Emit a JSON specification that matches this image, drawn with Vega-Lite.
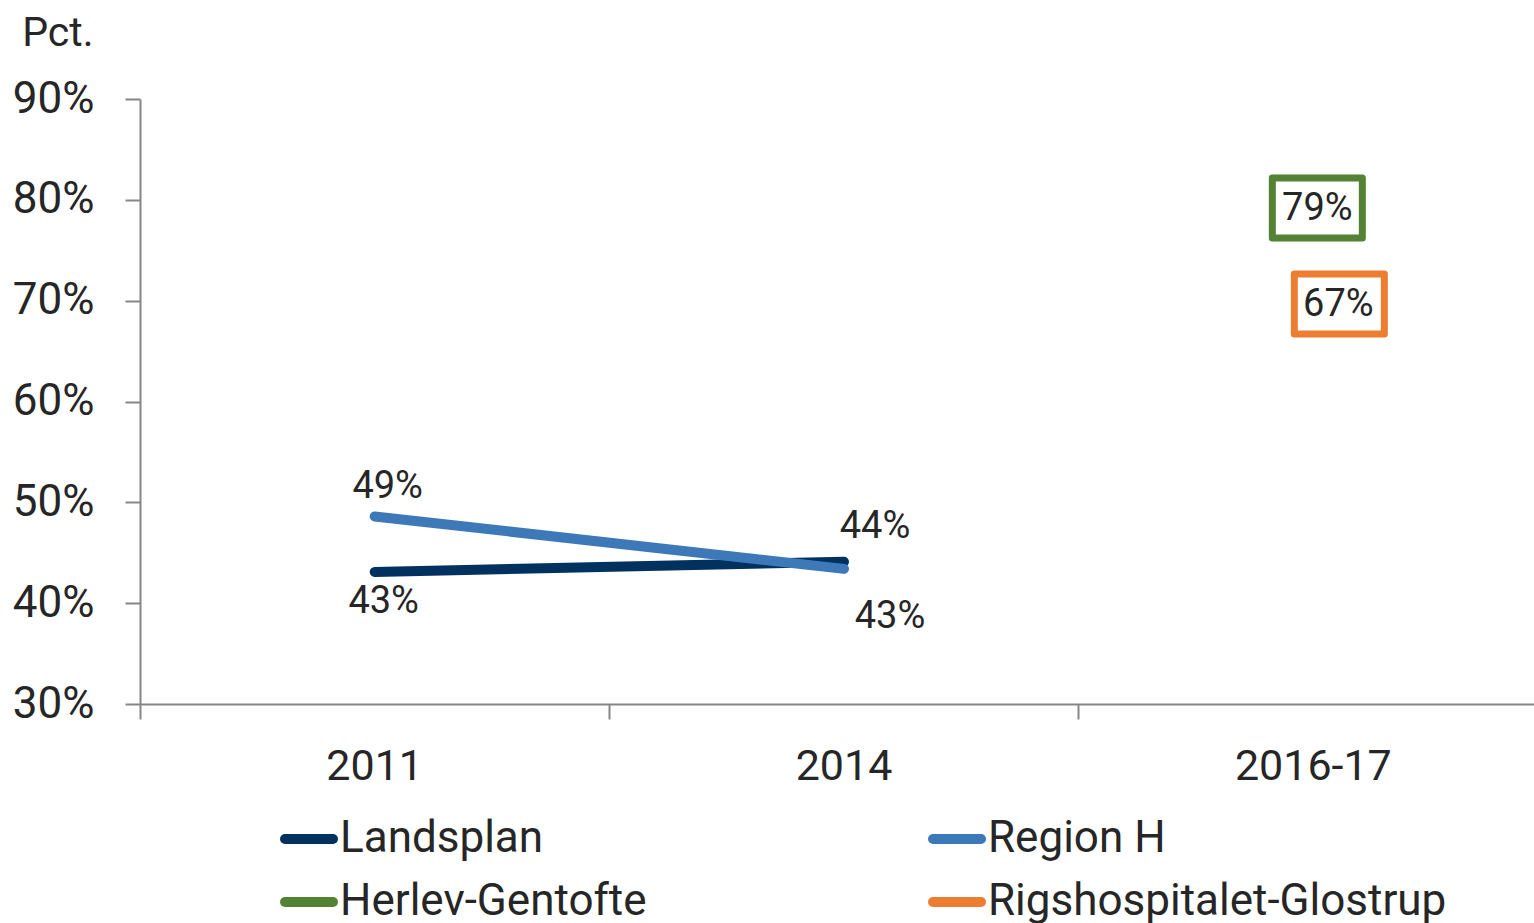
{
  "$schema": "https://vega.github.io/schema/vega-lite/v6.json",
  "autosize": "none",
  "width": 1394,
  "height": 605,
  "padding": {"left": 140, "top": 99, "right": 0, "bottom": 219},
  "background": "white",
  "config": {
    "font": "Roboto",
    "view": {"stroke": null},
    "axis": {"grid": false, "labelColor": "#262626", "titleColor": "#262626", "domainColor": "#868686", "tickColor": "#868686", "domainWidth": 2, "tickWidth": 2, "tickSize": 15}
  },
  "data": {
    "values": [
      {"series": "Landsplan", "period": "2011", "value": 0.431},
      {"series": "Landsplan", "period": "2014", "value": 0.441},
      {"series": "Region H", "period": "2011", "value": 0.486},
      {"series": "Region H", "period": "2014", "value": 0.434},
      {"series": "Herlev-Gentofte", "period": "2016-17", "value": 0.79},
      {"series": "Rigshospitalet-Glostrup", "period": "2016-17", "value": 0.67}
    ]
  },
  "encoding": {
    "x": {
      "field": "period", "type": "nominal", "sort": ["2011", "2014", "2016-17"],
      "scale": {"type": "band", "domain": ["2011", "2014", "2016-17"], "range": [0, 1408], "paddingInner": 0, "paddingOuter": 0},
      "axis": {"title": null, "labelAngle": 0, "labelFontSize": 43, "labelPadding": 26, "bandPosition": 0, "labelBaseline": "top"}
    },
    "y": {
      "field": "value", "type": "quantitative",
      "scale": {"domain": [0.3, 0.9], "nice": false, "zero": false},
      "axis": {"values": [0.3, 0.4, 0.5, 0.6, 0.7, 0.8, 0.9], "format": ".0%", "labelFontSize": 44, "labelPadding": 31, "title": "Pct.", "titleAngle": 0, "titleAlign": "right", "titleBaseline": "alphabetic", "titleX": -47, "titleY": -54, "titleFontSize": 41, "titleFontWeight": "normal"}
    }
  },
  "layer": [
    {
      "transform": [{"filter": "datum.series == 'Landsplan' || datum.series == 'Region H'"}],
      "mark": {"type": "line", "strokeWidth": 10, "strokeCap": "round"},
      "encoding": {
        "color": {
          "field": "series", "type": "nominal",
          "scale": {"domain": ["Landsplan", "Region H", "Herlev-Gentofte", "Rigshospitalet-Glostrup"], "range": ["#00315F", "#3D79B8", "#548235", "#ED7D31"]},
          "legend": {
            "title": null, "orient": "none", "legendX": 140, "legendY": 711, "direction": "horizontal", "columns": 2, "columnPadding": 266, "rowPadding": 12, "padding": 0,
            "symbolType": "stroke", "symbolSize": 2304, "symbolStrokeWidth": 10, "labelFontSize": 44, "labelColor": "#262626", "labelLimit": 800, "labelOffset": 2,
            "encode": {"symbols": {"update": {"strokeCap": {"value": "round"}}}}
          }
        },
        "order": {"field": "period"}
      }
    },
    {
      "transform": [{"filter": "datum.series == 'Region H' && datum.period == '2011'"}],
      "mark": {"type": "text", "fontSize": 38, "color": "#262626", "dx": 13, "dy": -29, "baseline": "middle"},
      "encoding": {"text": {"field": "value", "format": ".0%"}}
    },
    {
      "transform": [{"filter": "datum.series == 'Region H' && datum.period == '2014'"}],
      "mark": {"type": "text", "fontSize": 38, "color": "#262626", "dx": 46, "dy": 48, "baseline": "middle"},
      "encoding": {"text": {"field": "value", "format": ".0%"}}
    },
    {
      "transform": [{"filter": "datum.series == 'Landsplan' && datum.period == '2011'"}],
      "mark": {"type": "text", "fontSize": 38, "color": "#262626", "dx": 9, "dy": 30, "baseline": "middle"},
      "encoding": {"text": {"field": "value", "format": ".0%"}}
    },
    {
      "transform": [{"filter": "datum.series == 'Landsplan' && datum.period == '2014'"}],
      "mark": {"type": "text", "fontSize": 38, "color": "#262626", "dx": 31, "dy": -35, "baseline": "middle"},
      "encoding": {"text": {"field": "value", "format": ".0%"}}
    },
    {
      "transform": [{"filter": "datum.series == 'Herlev-Gentofte'"}],
      "mark": {"type": "point", "shape": "M-1,-0.667H1V0.667H-1Z", "size": 8100, "filled": false, "fill": "white", "fillOpacity": 1, "strokeWidth": 7, "strokeJoin": "round", "opacity": 1, "xOffset": 4, "yOffset": -2},
      "encoding": {"color": {"field": "series", "type": "nominal", "legend": null}}
    },
    {
      "transform": [{"filter": "datum.series == 'Herlev-Gentofte'"}],
      "mark": {"type": "text", "fontSize": 38, "color": "#262626", "dx": 4, "dy": -1, "baseline": "middle"},
      "encoding": {"text": {"field": "value", "format": ".0%"}}
    },
    {
      "transform": [{"filter": "datum.series == 'Rigshospitalet-Glostrup'"}],
      "mark": {"type": "point", "shape": "M-1,-0.667H1V0.667H-1Z", "size": 8100, "filled": false, "fill": "white", "fillOpacity": 1, "strokeWidth": 7, "strokeJoin": "round", "opacity": 1, "xOffset": 26, "yOffset": -27},
      "encoding": {"color": {"field": "series", "type": "nominal", "legend": null}}
    },
    {
      "transform": [{"filter": "datum.series == 'Rigshospitalet-Glostrup'"}],
      "mark": {"type": "text", "fontSize": 38, "color": "#262626", "dx": 25, "dy": -26, "baseline": "middle"},
      "encoding": {"text": {"field": "value", "format": ".0%"}}
    }
  ]
}
